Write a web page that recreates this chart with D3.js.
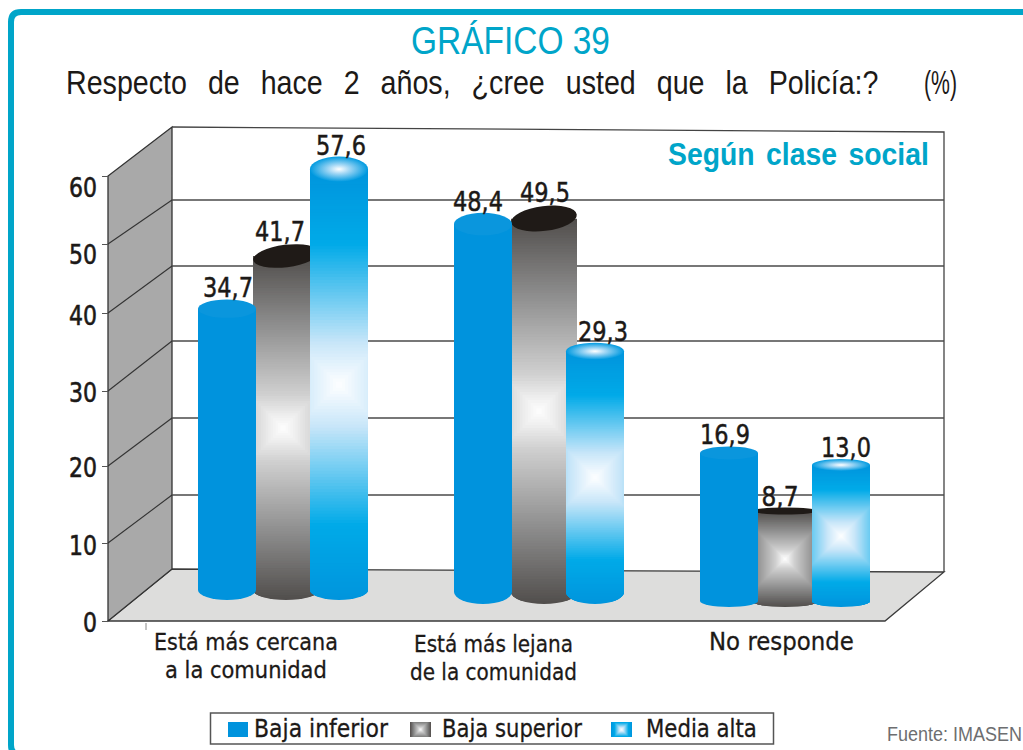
<!DOCTYPE html>
<html>
<head>
<meta charset="utf-8">
<title>Grafico 39</title>
<style>
body { margin: 0; background: #fff; }
svg { display: block; }
text { fill: #1c1917; }
.num, .cat, .leg, .tick text { font-family: "DejaVu Sans", sans-serif; }
.tick text { font-size: 26px; }
.num { font-size: 26px; text-anchor: middle; }
.cat { font-size: 23px; }
.leg { font-size: 24px; }
.sans { font-family: "Liberation Sans", Arial, sans-serif; }
</style>
</head>
<body>
<svg width="1023" height="750"></svg>
<script src="https://cdn.jsdelivr.net/npm/d3@7"></script>
<script>
// data
const categories = ["Está más cercana|a la comunidad", "Está más lejana|de la comunidad", "No responde"];
const seriesNames = ["Baja inferior", "Baja superior", "Media alta"];
const bajaInferior = [34.7, 48.4, 16.9];
const bajaSuperior = [41.7, 49.5, 8.7];
const mediaAlta = [57.6, 29.3, 13.0];
const seriesValues = [bajaInferior, bajaSuperior, mediaAlta];
const yTicks = [0, 10, 20, 30, 40, 50, 60];

const teal = "#00a5c9";
const svg = d3.select("svg");

// the 3d axis of the original is not regular, so the scales are piecewise
const yFront = d3.scaleLinear().domain(yTicks).range([621, 543, 466, 391, 313, 244, 176]);
const yBack = d3.scaleLinear().domain(yTicks).range([569, 495, 418, 341, 266, 200, 127]);
const yLabel = d3.scaleLinear().domain(yTicks).range([622, 545, 467, 392, 315, 254, 187]);
const barHeight = d3.scaleLinear()
  .domain([0, 8.7, 13, 16.9, 30, 41.7, 50, 60])
  .range([0, 90, 136, 148, 246, 334, 376, 435]);
const topRy = d3.scaleLinear().domain([0, 60]).range([4, 13]);

const x0 = d3.scaleOrdinal().domain(categories).range([283, 539, 785]);
const x1 = d3.scaleBand().domain(seriesNames).range([-84, 84]);
const groupBase = d3.scaleOrdinal().domain(categories).range([590, 592, 601]);
const groupRy = d3.scaleOrdinal().domain(categories).range([10, 12, 6]);

const wallX = 108, backX = 172, rightX = 944, floorX = 885, rx = 29;

// squeeze a text to the width it has in the picture
function fitText(sel, x, y, width) {
  const len = sel.node().getComputedTextLength();
  return sel.attr("transform", `translate(${x},${y}) scale(${width / len},1)`);
}

// frame
svg.append("path")
  .attr("d", "M1030,12 H21 Q11,12 11,22 V745 Q11,755 21,755")
  .attr("fill", "none").attr("stroke", teal).attr("stroke-width", 6);

// titles
fitText(svg.append("text").attr("class", "sans")
  .style("font-size", "38px").style("fill", teal).text("GRÁFICO 39"), 411, 54, 199);
fitText(svg.append("text").attr("class", "sans")
  .style("font-size", "33px").style("word-spacing", "15px")
  .text("Respecto de hace 2 años, ¿cree usted que la Policía:?"), 66, 94, 813);
fitText(svg.append("text").attr("class", "sans")
  .style("font-size", "33px").text("(%)"), 924, 94, 33);

// floor
svg.append("path")
  .attr("d", `M${wallX},${yFront(0)} L${backX},${yBack(0)} L${rightX},${yBack(0) + 3} L${floorX},${yFront(0)} Z`)
  .attr("fill", "#dddddc").attr("stroke", "#3a3a3a").attr("stroke-width", 1.3);

// side wall
svg.append("path")
  .attr("d", `M${wallX},${yFront(0)} V${yFront(60)} L${backX},${yBack(60)} V${yBack(0)} Z`)
  .attr("fill", "#a9a9a9").attr("stroke", "#333").attr("stroke-width", 1.3);

// back wall outline
svg.append("path")
  .attr("d", `M${backX},${yBack(60)} L${rightX},${yBack(60) + 5} V${yBack(0) + 3}`)
  .attr("fill", "none").attr("stroke", "#444").attr("stroke-width", 1.3);

// grid lines on both walls
const inner = yTicks.slice(1, -1);
svg.selectAll(".grid").data(inner).join("line").attr("class", "grid")
  .attr("x1", backX).attr("x2", rightX)
  .attr("y1", d => yBack(d)).attr("y2", d => yBack(d))
  .attr("stroke", "#4a4a4a").attr("stroke-width", 1.3);
svg.selectAll(".wallgrid").data(inner).join("line").attr("class", "wallgrid")
  .attr("x1", wallX).attr("x2", backX)
  .attr("y1", d => yFront(d)).attr("y2", d => yBack(d))
  .attr("stroke", "#333").attr("stroke-width", 1.1);

// y axis
const axis = svg.append("g").attr("transform", `translate(${wallX},0)`)
  .call(d3.axisLeft(yFront).tickValues(yTicks).tickSize(6).tickPadding(5));
axis.select(".domain").remove();
axis.selectAll(".tick line").attr("stroke", "#555");
axis.selectAll(".tick text")
  .attr("dy", null).attr("dominant-baseline", "central")
  .attr("y", d => yLabel(d) - yFront(d))
  .attr("textLength", d => d === 0 ? 14 : 28).attr("lengthAdjust", "spacingAndGlyphs")
  .attr("stroke", "#1c1917").attr("stroke-width", 0.6);

// small mark under the floor
svg.append("line").attr("x1", 146).attr("x2", 146).attr("y1", 623).attr("y2", 630)
  .attr("stroke", "#888").attr("stroke-width", 1);

fitText(svg.append("text").attr("class", "sans")
  .style("font-size", "31px").style("font-weight", "bold").style("fill", teal).style("word-spacing", "4px")
  .text("Según clase social"), 668, 165, 261);

// colour ramps of the square fountain fills, 0 is the centre
const darkRamp = d3.scaleLinear().domain([0, 0.08, 0.2, 0.6, 1])
  .range(["#ffffff", "#eeeeee", "#d0d0d0", "#8f8f8f", "#524f4d"]);
const lightRamp = d3.scaleLinear().domain([0, 0.05, 0.2, 0.66, 1])
  .range(["#ffffff", "#f2f9fe", "#c8e6f9", "#00aae8", "#0095dd"]);
const ramps = [null, darkRamp, lightRamp];
const blue = "#0093dd";

function squareFill(g, cx, cy, R, ramp) {
  g.selectAll("rect").data(d3.range(70, 0, -1)).join("rect")
    .attr("x", i => cx - R * i / 70).attr("y", i => cy - R * i / 70)
    .attr("width", i => 2 * R * i / 70).attr("height", i => 2 * R * i / 70)
    .attr("fill", i => ramp(i / 70));
}

const defs = svg.append("defs");
const grad = defs.append("radialGradient").attr("id", "cap");
grad.append("stop").attr("offset", "0%").attr("stop-color", "#ffffff");
grad.append("stop").attr("offset", "35%").attr("stop-color", "#a5d8f5");
grad.append("stop").attr("offset", "100%").attr("stop-color", "#009ae0");

// cylinders, dark series first because its neighbours overlap it
const labelDx = [[1, -3, 2], [-5, 6, 8], [-4, -5, 5]];
const darkShift = [3, 5, 0];
const bars = [];
categories.forEach((c, ci) => seriesNames.forEach((s, si) => {
  bars.push({ c, ci, s, si, v: seriesValues[si][ci] });
}));
const drawOrder = [1, 0, 2];
drawOrder.forEach(si => {
  bars.filter(b => b.si === si).forEach(b => {
    const cx = x0(b.c) + x1(b.s) + x1.bandwidth() / 2;
    const base = groupBase(b.c);
    const top = base - barHeight(b.v);
    const ry = groupRy(b.c);
    // dark caps: tilted and fat on the tall ones, nearly flat on the short one
    const capRy = si === 1 ? (b.v > 20 ? topRy(b.v) + 1 : 3.5) : topRy(b.v);
    const bottom = base + ry;
    // the dark cylinder is a bit wider and sits behind the others
    const bx = si === 1 ? cx + darkShift[b.ci] : cx;
    const brx = si === 1 ? 33 : rx;
    const body = `M${bx - brx},${top} V${base} A${brx},${ry} 0 0 0 ${bx + brx},${base} V${top} Z`;
    const g = svg.append("g");
    if (si === 0) {
      g.append("path").attr("d", body).attr("fill", blue);
      g.append("ellipse").attr("cx", cx).attr("cy", top).attr("rx", rx).attr("ry", capRy).attr("fill", "#0a96dd");
    } else {
      const id = `clip${b.ci}${b.si}`;
      defs.append("clipPath").attr("id", id).append("path").attr("d", body);
      const fill = g.append("g").attr("clip-path", `url(#${id})`);
      squareFill(fill, cx, (top + bottom) / 2, (bottom - top) / 2, ramps[si]);
      const cap = g.append("ellipse").attr("cx", bx).attr("cy", top).attr("rx", brx).attr("ry", capRy);
      if (si === 1) {
        cap.attr("fill", "#1f1a17").attr("transform", b.v > 20 ? `rotate(-7,${bx},${top})` : null);
      } else {
        cap.attr("fill", "url(#cap)");
      }
    }
    b.x = cx + labelDx[b.ci][b.si];
    b.y = top - capRy - (si === 1 && b.v > 20 ? 4 : 2);
  });
});

// value labels
svg.selectAll(".num").data(bars).join("text").attr("class", "num")
  .attr("x", d => d.x).attr("y", d => d.y)
  .attr("textLength", d => d.v < 10 ? 37 : 50).attr("lengthAdjust", "spacingAndGlyphs")
  .attr("stroke", "#1c1917").attr("stroke-width", 0.5)
  .text(d => d.v.toFixed(1).replace(".", ","));

// category labels
const catLines = [
  [["Está más cercana", 154, 650, 184, 23], ["a la comunidad", 165, 678, 162, 23]],
  [["Está más lejana", 414, 652, 159, 23], ["de la comunidad", 410, 680, 167, 23]],
  [["No responde", 709, 650, 145, 25]]
];
catLines.flat().forEach(l => {
  fitText(svg.append("text").attr("class", "cat").style("font-size", l[4] + "px")
    .attr("stroke", "#1c1917").attr("stroke-width", 0.3).text(l[0]), l[1], l[2], l[3]);
});

// legend
svg.append("rect").attr("x", 210.5).attr("y", 713).attr("width", 563).attr("height", 31)
  .attr("fill", "#fff").attr("stroke", "#555").attr("stroke-width", 1.5);
const legendX = [228, 410, 611], legendTextX = [254, 442, 646], legendW = [134, 140, 111];
seriesNames.forEach((s, i) => {
  const g = svg.append("g");
  if (i === 0) {
    g.append("rect").attr("x", legendX[i]).attr("y", 722).attr("width", 20).attr("height", 15).attr("fill", blue);
  } else {
    const id = "legclip" + i;
    defs.append("clipPath").attr("id", id).append("rect")
      .attr("x", legendX[i]).attr("y", 722).attr("width", 21).attr("height", 15);
    const f = g.append("g").attr("clip-path", `url(#${id})`);
    squareFill(f, legendX[i] + 10.5, 729.5, 10.5, ramps[i]);
  }
  fitText(svg.append("text").attr("class", "leg")
    .attr("stroke", "#1c1917").attr("stroke-width", 0.3).text(s), legendTextX[i], 737, legendW[i]);
});

fitText(svg.append("text").attr("class", "sans")
  .style("font-size", "20px").style("fill", "#6d6e70").text("Fuente: IMASEN"), 887, 741, 135);
</script>
</body>
</html>
